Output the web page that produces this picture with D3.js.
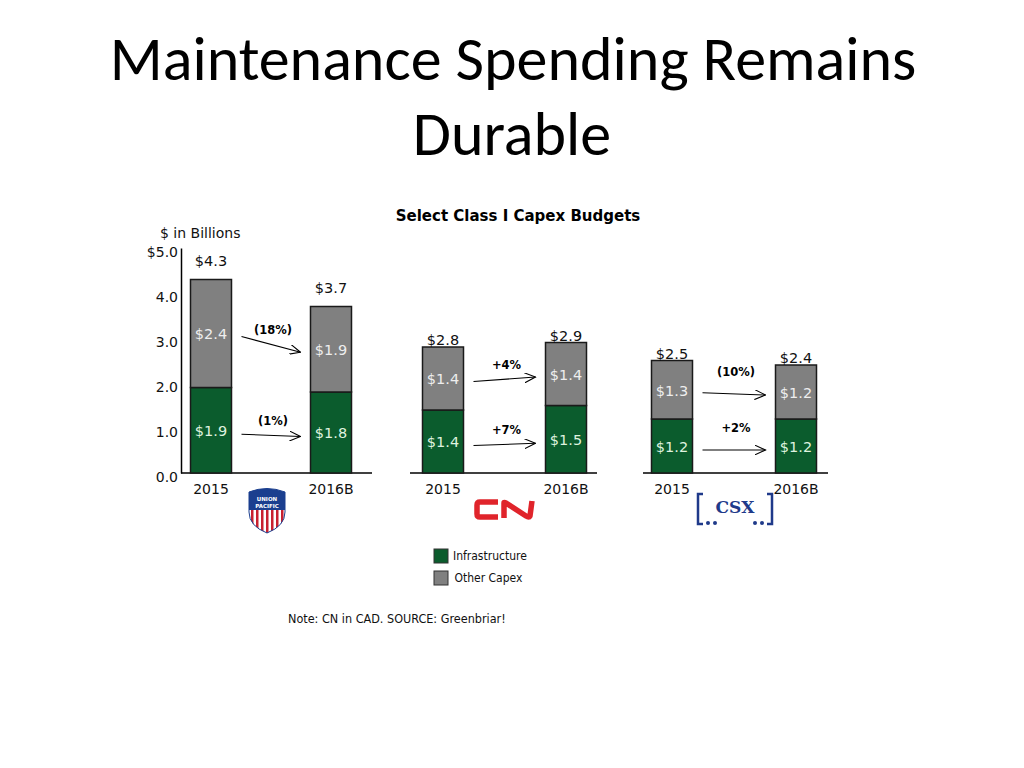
<!DOCTYPE html>
<html><head><meta charset="utf-8">
<script src="https://cdn.jsdelivr.net/npm/d3@7"></script>
<style>body{margin:0;background:#fff;}svg{display:block;}</style>
</head><body>
<script>
// ---- data ----
const years = ["2015", "2016B"];
const railroads = ["Union Pacific", "CN", "CSX"];
const infrastructure = [[1.9, 1.8], [1.4, 1.5], [1.2, 1.2]];
const otherCapex = [[2.4, 1.9], [1.4, 1.4], [1.3, 1.2]];
const totals = [[4.3, 3.7], [2.8, 2.9], [2.5, 2.4]];
const otherChange = ["(18%)", "+4%", "(10%)"];
const infraChange = ["(1%)", "+7%", "+2%"];
const yTicks = [0, 1, 2, 3, 4, 5];
const yTickLabels = ["0.0", "1.0", "2.0", "3.0", "4.0", "$5.0"];
const seriesNames = ["Infrastructure", "Other Capex"];

// ---- layout / style ----
const W = 1024, H = 768;
const GREEN = "#0b5c2d", GRAY = "#808080";
const panelCenters = [[211, 331], [443, 566], [672, 796]];
const baselines = [[181, 372], [410, 597], [643, 828]];
const labelLift = [10, 10, 18];
const barW = 41;
const chartFont = "'DejaVu Sans', Verdana, sans-serif";

const svg = d3.select("body").append("svg").attr("width", W).attr("height", H);
const defs = svg.append("defs");
defs.append("marker").attr("id", "arr").attr("viewBox", "0 0 12 10")
  .attr("refX", 11).attr("refY", 5).attr("markerWidth", 12).attr("markerHeight", 10)
  .attr("markerUnits", "userSpaceOnUse").attr("orient", "auto")
  .append("path").attr("d", "M0,0 L11,5 L0,10").attr("fill", "none").attr("stroke", "#000").attr("stroke-width", 1.1);

// title
const title = svg.append("g").attr("font-family", "Carlito, Lato, sans-serif").attr("fill", "#000")
  .attr("text-anchor", "middle").attr("font-size", 62);
title.append("text").attr("x", 513).attr("y", 80).text("Maintenance Spending Remains");
title.append("text").attr("x", 512).attr("y", 155).text("Durable");

svg.append("text").attr("x", 518).attr("y", 221).attr("text-anchor", "middle")
  .attr("font-family", "'DejaVu Sans', sans-serif").attr("font-weight", "bold")
  .attr("font-size", 15).text("Select Class I Capex Budgets");

const y = d3.scaleLinear().domain([0, 5]).range([473, 248]);

// y axis
const yAxis = svg.append("g").attr("transform", "translate(181,0)")
  .call(d3.axisLeft(y).tickValues(yTicks).tickFormat((d, i) => yTickLabels[i]).tickSize(0).tickPadding(3));
yAxis.select(".domain").attr("stroke", "#000").attr("stroke-width", 1.5);
yAxis.selectAll("text").attr("font-family", chartFont).attr("font-size", 14).attr("fill", "#111").attr("dy", "0.62em");
svg.append("text").attr("x", 160).attr("y", 238).attr("font-family", chartFont).attr("font-size", 14).attr("fill", "#111").text("$ in Billions");

railroads.forEach((rr, p) => {
  const g = svg.append("g");
  const x = d3.scalePoint().domain(years).range(panelCenters[p]);
  g.append("line").attr("x1", baselines[p][0]).attr("x2", baselines[p][1])
    .attr("y1", y(0)).attr("y2", y(0)).attr("stroke", "#000").attr("stroke-width", 1.5);
  const stacks = years.map((yr, i) => ({ yr, i, inf: infrastructure[p][i], oth: otherCapex[p][i], tot: totals[p][i] }));
  g.selectAll(".inf").data(stacks).join("rect")
    .attr("x", d => x(d.yr) - barW / 2).attr("width", barW)
    .attr("y", d => y(d.inf)).attr("height", d => y(0) - y(d.inf))
    .attr("fill", GREEN).attr("stroke", "#1a1a1a").attr("stroke-width", 1.5);
  g.selectAll(".oth").data(stacks).join("rect")
    .attr("x", d => x(d.yr) - barW / 2).attr("width", barW)
    .attr("y", d => y(d.inf + d.oth)).attr("height", d => y(d.inf) - y(d.inf + d.oth))
    .attr("fill", GRAY).attr("stroke", "#1a1a1a").attr("stroke-width", 1.5);
  g.selectAll(".linf").data(stacks).join("text")
    .attr("x", d => x(d.yr)).attr("y", d => y(d.inf / 2)).attr("dy", "0.4em")
    .attr("text-anchor", "middle").attr("font-family", chartFont).attr("font-size", 14.5)
    .attr("fill", "#dff2df").text(d => "$" + d.inf.toFixed(1));
  g.selectAll(".loth").data(stacks).join("text")
    .attr("x", d => x(d.yr)).attr("y", d => y(d.inf + d.oth / 2)).attr("dy", "0.4em")
    .attr("text-anchor", "middle").attr("font-family", chartFont).attr("font-size", 14.5)
    .attr("fill", "#eeeeee").text(d => "$" + d.oth.toFixed(1));
  g.selectAll(".ltot").data(stacks).join("text")
    .attr("x", d => x(d.yr)).attr("y", d => y(d.tot) - (p === 0 ? 14 : 2))
    .attr("text-anchor", "middle").attr("font-family", chartFont).attr("font-size", 14.5)
    .attr("fill", "#111").text(d => "$" + d.tot.toFixed(1));
  g.selectAll(".cat").data(years).join("text")
    .attr("x", d => x(d)).attr("y", y(0) + 21).attr("text-anchor", "middle")
    .attr("font-family", chartFont).attr("font-size", 14).attr("fill", "#111").text(d => d);
  const x1 = x(years[0]) + barW / 2 + 10, x2 = x(years[1]) - barW / 2 - 10;
  const arrows = [
    { y1: y(stacks[0].inf + stacks[0].oth / 2) + 3, y2: y(stacks[1].inf + stacks[1].oth / 2) + 3, lab: otherChange[p] },
    { y1: y(stacks[0].inf / 2) + 4, y2: y(stacks[1].inf / 2) + 4, lab: infraChange[p] }
  ];
  arrows.forEach(a => {
    g.append("line").attr("x1", x1).attr("y1", a.y1).attr("x2", x2).attr("y2", a.y2)
      .attr("stroke", "#000").attr("stroke-width", 1.1).attr("marker-end", "url(#arr)");
    g.append("text").attr("x", (x1 + x2) / 2 + 2).attr("y", (a.y1 + a.y2) / 2 - labelLift[p])
      .attr("text-anchor", "middle").attr("font-family", chartFont).attr("font-weight", "bold")
      .attr("font-size", 11.5).attr("fill", "#000").text(a.lab);
  });
});

// ---- logos ----
(function () {
  const g = svg.append("g").attr("transform", "translate(267,512)");
  const shield = "M-18,-20 Q0,-27 18,-20 L18,0 Q18,14 0,21 Q-18,14 -18,0 Z";
  defs.append("clipPath").attr("id", "upclip").append("path").attr("d", shield);
  const c = g.append("g").attr("clip-path", "url(#upclip)");
  c.append("rect").attr("x", -20).attr("y", -2).attr("width", 40).attr("height", 25).attr("fill", "#fff");
  d3.range(-16, 18, 5).forEach(sx => c.append("rect").attr("x", sx).attr("y", -2).attr("width", 2.5).attr("height", 25).attr("fill", "#c8202f"));
  c.append("rect").attr("x", -20).attr("y", -28).attr("width", 40).attr("height", 26).attr("fill", "#1b3f8f");
  g.append("path").attr("d", shield).attr("fill", "none").attr("stroke", "#1b3f8f").attr("stroke-width", 1);
  g.append("text").attr("y", -11).attr("text-anchor", "middle").attr("font-family", chartFont).attr("font-weight", "bold").attr("font-size", 5.5).attr("fill", "#fff").text("UNION");
  g.append("text").attr("y", -4).attr("text-anchor", "middle").attr("font-family", chartFont).attr("font-weight", "bold").attr("font-size", 5.5).attr("fill", "#fff").text("PACIFIC");
})();
(function () {
  const g = svg.append("g").attr("transform", "translate(474,499)").attr("fill", "none").attr("stroke", "#e0242b").attr("stroke-width", 5.5);
  g.append("path").attr("d", "M24,3 L6,3 Q3,3 3,6 L3,15 Q3,18 6,18 L24,18");
  g.append("path").attr("d", "M30,19 L30,4 Q30,3 32,4 L52,17 Q55,19 56,17 L58,2").attr("stroke-linejoin", "round");
})();
(function () {
  const g = svg.append("g").attr("transform", "translate(697,493)");
  const blue = "#1f3a8a";
  g.append("path").attr("d", "M6,1 L1,1 L1,31 L6,31").attr("fill", "none").attr("stroke", blue).attr("stroke-width", 2.5);
  g.append("path").attr("d", "M70,1 L75,1 L75,31 L70,31").attr("fill", "none").attr("stroke", blue).attr("stroke-width", 2.5);
  g.append("text").attr("x", 38).attr("y", 20).attr("text-anchor", "middle").attr("font-family", "'DejaVu Serif', serif").attr("font-weight", "bold").attr("font-size", 17).attr("fill", blue).text("CSX");
  [[11, 30], [18, 30], [58, 30], [65, 30]].forEach(d => g.append("circle").attr("cx", d[0]).attr("cy", d[1]).attr("r", 2).attr("fill", blue));
})();

// ---- legend ----
const leg = svg.append("g");
[GREEN, GRAY].forEach((col, i) => {
  leg.append("rect").attr("x", 434).attr("y", 549 + i * 22).attr("width", 14).attr("height", 14)
    .attr("fill", col).attr("stroke", "#333").attr("stroke-width", 1);
  leg.append("text").attr("x", 453 + i * 1.5).attr("y", 560 + i * 22)
    .attr("font-family", "'DejaVu Sans Condensed', 'DejaVu Sans', sans-serif").attr("font-size", 12).attr("fill", "#111").text(seriesNames[i]);
});

svg.append("text").attr("x", 288).attr("y", 623).attr("font-family", "'DejaVu Sans Condensed', 'DejaVu Sans', sans-serif")
  .attr("font-size", 12.5).attr("fill", "#111").text("Note: CN in CAD. SOURCE: Greenbriar!");
</script>
</body></html>
